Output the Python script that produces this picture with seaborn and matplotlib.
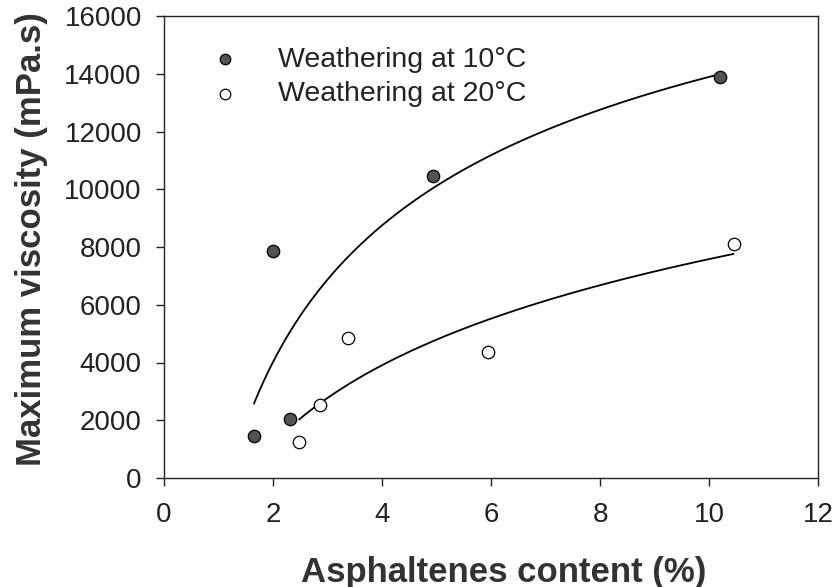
import matplotlib
matplotlib.use("Agg")
import matplotlib.pyplot as plt
import seaborn as sns
import numpy as np
import pandas as pd

# Asphaltenes content (%) and maximum viscosity (mPa.s)
asph_10 = [1.65, 2.0, 2.32, 4.93, 10.2]
visc_10 = [1450, 7850, 2050, 10450, 13900]
asph_20 = [2.48, 2.87, 3.37, 5.95, 10.45]
visc_20 = [1250, 2530, 4850, 4370, 8100]

label_10 = "Weathering at 10°C"
label_20 = "Weathering at 20°C"
x_ticks = [0, 2, 4, 6, 8, 10, 12]
y_ticks = [0, 2000, 4000, 6000, 8000, 10000, 12000, 14000, 16000]

sns.set_theme(style="ticks")
plt.rcParams["font.family"] = ["Liberation Sans", "DejaVu Sans"]


def log_trend(x, y, n=200):
    """Second-order polynomial fit in ln(x), evaluated across the data range."""
    x = np.asarray(x, float)
    coef = np.polyfit(np.log(x), np.asarray(y, float), 2)
    xs = np.linspace(x.min(), x.max(), n)
    return pd.DataFrame({"x": xs, "y": np.polyval(coef, np.log(xs))})


df10 = pd.DataFrame({"x": asph_10, "y": visc_10})
df20 = pd.DataFrame({"x": asph_20, "y": visc_20})

fig = plt.figure(figsize=(8.37, 5.87), dpi=100)
ax = fig.add_axes([164 / 837, 1 - 478 / 587, (818 - 164) / 837, (478 - 16) / 587])

# trend lines
for d in (df10, df20):
    sns.lineplot(data=log_trend(d["x"], d["y"]), x="x", y="y", ax=ax,
                 color="black", linewidth=1.3, sort=False)

sns.scatterplot(data=df10, x="x", y="y", ax=ax, s=80, color="#525252",
                edgecolor="black", linewidth=0.9, label=label_10, zorder=3)
sns.scatterplot(data=df20, x="x", y="y", ax=ax, s=80, color="white",
                edgecolor="black", linewidth=0.9, label=label_20, zorder=3)

ax.set_xlim(0, 12)
ax.set_ylim(0, 16000)
ax.set_xticks(x_ticks)
ax.set_yticks(y_ticks)
ax.tick_params(direction="out", length=6, width=1.0, color="#222222",
               labelsize=20, labelcolor="#222222", pad=10)
ax.tick_params(axis="x", pad=11)
for s in ax.spines.values():
    s.set_color("#222222")
    s.set_linewidth(1.0)

ax.set_xlabel("Asphaltenes content (%)", fontsize=25, fontweight="bold",
              color="#333333")
ax.xaxis.set_label_coords(0.52, -0.168)
ax.set_ylabel("Maximum viscosity (mPa.s)", fontsize=25, fontweight="bold",
              color="#333333")
ax.yaxis.set_label_coords(-0.178, 0.517)

leg = ax.legend(loc="upper left", bbox_to_anchor=(0.054, 0.958), frameon=False,
                fontsize=20.5, handlelength=1.0, handletextpad=1.35,
                labelspacing=0.3, markerscale=0.85, borderaxespad=0)
for t in leg.get_texts():
    t.set_color("#222222")

fig.savefig("out.png", dpi=100)
